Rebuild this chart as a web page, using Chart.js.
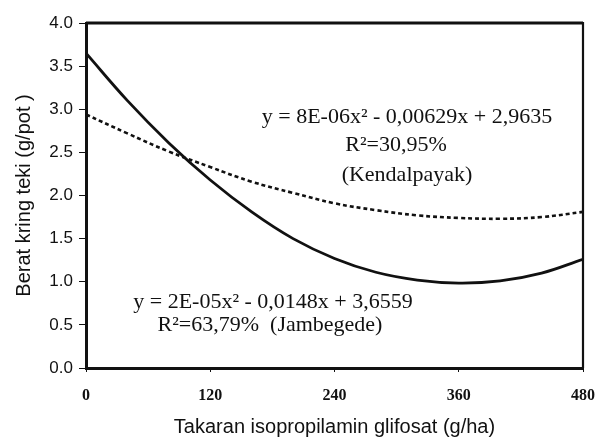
<!DOCTYPE html>
<html>
<head>
<meta charset="utf-8">
<script src="https://cdn.jsdelivr.net/npm/chart.js@4.4.1/dist/chart.umd.min.js"></script>
<style>
  html, body { margin: 0; padding: 0; background: #fff; }
  #wrap { width: 601px; height: 439px; position: relative; }
</style>
</head>
<body>
<div id="wrap"><canvas id="chart" width="601" height="439"></canvas></div>
<script>
// DATA
const doses = [0, 40, 80, 120, 160, 200, 240, 280, 320, 360, 400, 440, 480];
const jambegede = [3.65, 3.10, 2.61, 2.18, 1.81, 1.50, 1.27, 1.11, 1.02, 0.985, 1.01, 1.10, 1.26];
const kendalpayak = [2.94, 2.72, 2.51, 2.33, 2.16, 2.03, 1.91, 1.83, 1.77, 1.74, 1.73, 1.75, 1.81];
const xTicks = [0, 120, 240, 360, 480];
const yTicks = [0, 0.5, 1, 1.5, 2, 2.5, 3, 3.5, 4];

const eqKendal = ["y = 8E-06x\u00B2 - 0,00629x + 2,9635", "R\u00B2=30,95%", "(Kendalpayak)"];
const eqJambe = ["y = 2E-05x\u00B2 - 0,0148x + 3,6559", "R\u00B2=63,79%  (Jambegede)"];

function toPoints(xs, ys) {
    return xs.map((x, i) => ({ x: x, y: ys[i] }));
}

// frame + equations
const extras = {
    id: "extras",
    afterDatasetsDraw(chart) {
        const ctx = chart.ctx;
        const a = chart.chartArea;
        ctx.save();
        ctx.strokeStyle = "#111";
        ctx.lineWidth = 3;
        ctx.beginPath();
        ctx.moveTo(a.left, a.top);
        ctx.lineTo(a.right, a.top);
        ctx.stroke();
        ctx.lineWidth = 2.2;
        ctx.beginPath();
        ctx.moveTo(a.right, a.top - 1);
        ctx.lineTo(a.right, a.bottom);
        ctx.stroke();

        ctx.fillStyle = "#111";
        ctx.font = "22px 'Liberation Serif', serif";
        ctx.textAlign = "center";
        ctx.textBaseline = "middle";
        ctx.fillText(eqKendal[0], 407, 117);
        ctx.fillText(eqKendal[1], 396, 145);
        ctx.fillText(eqKendal[2], 407, 175);
        ctx.fillText(eqJambe[0], 273, 302);
        ctx.fillText(eqJambe[1], 270, 325);
        ctx.restore();
    }
};

const ctx = document.getElementById("chart").getContext("2d");

new Chart(ctx, {
    type: "line",
    data: {
        datasets: [{
            label: "Jambegede",
            data: toPoints(doses, jambegede),
            borderColor: "#111",
            borderWidth: 2.8,
            pointRadius: 0,
            tension: 0.4,
            fill: false
        }, {
            label: "Kendalpayak",
            data: toPoints(doses, kendalpayak),
            borderColor: "#111",
            borderWidth: 2.6,
            borderDash: [4, 3],
            pointRadius: 0,
            tension: 0.4,
            fill: false
        }]
    },
    options: {
        responsive: false,
        animation: false,
        layout: { padding: { left: 0, right: 18, top: 23, bottom: 0 } },
        plugins: {
            legend: { display: false },
            tooltip: { enabled: false }
        },
        scales: {
            x: {
                type: "linear",
                min: 0,
                max: 480,
                afterBuildTicks: (s) => { s.ticks = xTicks.map(v => ({ value: v })); },
                afterFit: (s) => { s.height = 71; s.paddingLeft = 0; s.paddingRight = 0; },
                border: { display: true, color: "#111", width: 3 },
                grid: { display: true, drawOnChartArea: false, drawTicks: true, tickLength: 4, color: "#111" },
                ticks: {
                    color: "#111",
                    padding: 14,
                    maxRotation: 0,
                    font: { family: "'Liberation Serif', serif", size: 16, weight: "bold" }
                },
                title: {
                    display: true,
                    text: "Takaran isopropilamin glifosat (g/ha)",
                    color: "#111",
                    padding: { top: 6, bottom: 0 },
                    font: { family: "'Liberation Sans', Arial, sans-serif", size: 20 }
                }
            },
            y: {
                min: 0,
                max: 4,
                afterBuildTicks: (s) => { s.ticks = yTicks.map(v => ({ value: v })); },
                afterFit: (s) => { s.width = 86; s.paddingTop = 0; s.paddingBottom = 0; },
                border: { display: true, color: "#111", width: 3 },
                grid: { display: true, drawOnChartArea: false, drawTicks: true, tickLength: 7, color: "#111" },
                ticks: {
                    color: "#111",
                    padding: 6,
                    callback: (v) => Number(v).toFixed(1),
                    font: { family: "'Liberation Sans', Arial, sans-serif", size: 17 }
                },
                title: {
                    display: true,
                    text: "Berat kring teki (g/pot )",
                    color: "#111",
                    padding: { top: 12, bottom: 0 },
                    font: { family: "'Liberation Sans', Arial, sans-serif", size: 20 }
                }
            }
        }
    },
    plugins: [extras]
});
</script>
</body>
</html>
